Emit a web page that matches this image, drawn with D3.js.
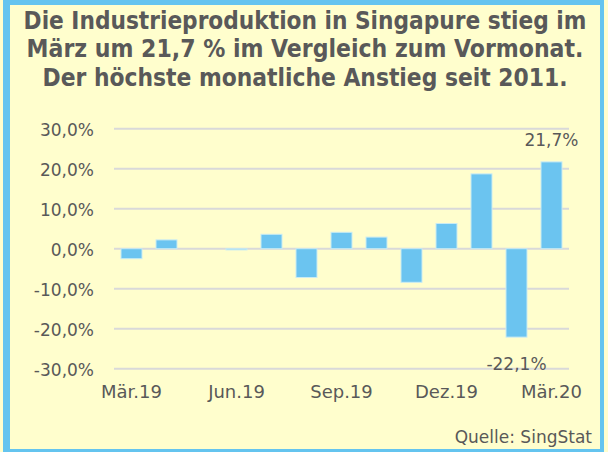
<!DOCTYPE html>
<html>
<head>
<meta charset="utf-8">
<script src="https://cdn.jsdelivr.net/npm/d3@7"></script>
<style>
  html, body { margin: 0; padding: 0; background: #fffecd; }
  svg text { font-family: "DejaVu Sans", sans-serif; fill: #595959; }
  .title { font-family: "DejaVu Sans Condensed", "DejaVu Sans", sans-serif; font-stretch: condensed; font-weight: bold; }
</style>
</head>
<body>
<svg id="chart" width="608" height="452"></svg>
<script>
// Data
const months = ["Mär.19", "Apr.19", "Mai.19", "Jun.19", "Jul.19", "Aug.19", "Sep.19",
                "Okt.19", "Nov.19", "Dez.19", "Jan.20", "Feb.20", "Mär.20"];
const change = [-2.5, 2.2, 0.0, -0.3, 3.6, -7.2, 4.1, 2.9, -8.4, 6.3, 18.7, -22.1, 21.7];
const yTicks = [-30, -20, -10, 0, 10, 20, 30];
const xTickLabels = ["Mär.19", "Jun.19", "Sep.19", "Dez.19", "Mär.20"];
const titleLines = [
  "Die Industrieproduktion in Singapure stieg im",
  "März um 21,7 % im Vergleich zum Vormonat.",
  "Der höchste monatliche Anstieg seit 2011."
];
const source = "Quelle: SingStat";

const W = 608, H = 452;
const svg = d3.select("#chart");

// background + blue frame
svg.append("rect").attr("width", W).attr("height", H).attr("fill", "#fffecd");
svg.append("rect").attr("x", 3).attr("y", 0).attr("width", 601).attr("height", H).attr("fill", "#64c4ef");
svg.append("rect").attr("x", 10).attr("y", 5).attr("width", 590).attr("height", 444).attr("fill", "#fffecd");

// title, fitted to the widths seen in the picture
const titleWidths = [563, 557, 525];
titleLines.forEach((t, i) => {
  const txt = svg.append("text")
    .attr("class", "title")
    .attr("x", 305).attr("y", 28.5 + i * 28.8)
    .attr("text-anchor", "middle")
    .style("font-size", "21px")
    .text(t);
  const w = txt.node().getComputedTextLength();
  txt.style("font-size", (21 * titleWidths[i] / w).toFixed(2) + "px");
});

const x = d3.scaleBand().domain(months).range([114, 569]).paddingInner(0.4).paddingOuter(0.2);
const y = d3.scaleLinear().domain([-30, 30]).range([368.7, 128.7]);

// grid lines
svg.append("g")
  .selectAll("line")
  .data(yTicks)
  .join("line")
  .attr("x1", 114).attr("x2", 569)
  .attr("y1", d => y(d)).attr("y2", d => y(d))
  .attr("stroke", "#d9d9d9").attr("stroke-width", 2);

// y axis labels
const fmt = d => d3.format(".1f")(d).replace(".", ",").replace("−", "-") + "%";
const yAxis = svg.append("g")
  .attr("transform", "translate(94,0)")
  .call(d3.axisLeft(y).tickValues(yTicks).tickSize(0).tickPadding(0).tickFormat(fmt));
yAxis.select(".domain").remove();
yAxis.selectAll("text")
  .style("font-size", "17px").style("font-family", null).attr("fill", "#595959")
  .attr("dy", "0.38em");

// bars
svg.append("g")
  .selectAll("rect")
  .data(change)
  .join("rect")
  .attr("x", (d, i) => x(months[i]))
  .attr("width", x.bandwidth())
  .attr("y", d => y(Math.max(0, d)))
  .attr("height", d => Math.abs(y(d) - y(0)))
  .attr("fill", "#6bc4f0")
  .attr("stroke", "#c9ebf3").attr("stroke-width", 1);

// x axis labels
const xAxis = svg.append("g")
  .attr("transform", "translate(0,384)")
  .call(d3.axisBottom(x).tickValues(xTickLabels).tickSize(0).tickPadding(0));
xAxis.select(".domain").remove();
xAxis.selectAll("text")
  .style("font-size", "18px").style("font-family", null).attr("fill", "#595959")
  .attr("dy", "0.76em");

// value labels for the last two bars
const last = change.length - 1;
svg.append("text")
  .attr("x", x(months[last]) + x.bandwidth() / 2).attr("y", 146)
  .attr("text-anchor", "middle").style("font-size", "17px")
  .text(fmt(change[last]));
svg.append("text")
  .attr("x", x(months[last - 1]) + x.bandwidth() / 2).attr("y", 370)
  .attr("text-anchor", "middle").style("font-size", "17px")
  .text(fmt(change[last - 1]));

// source
svg.append("text")
  .attr("x", 592).attr("y", 443)
  .attr("text-anchor", "end").style("font-size", "17px")
  .text(source);
</script>
</body>
</html>
